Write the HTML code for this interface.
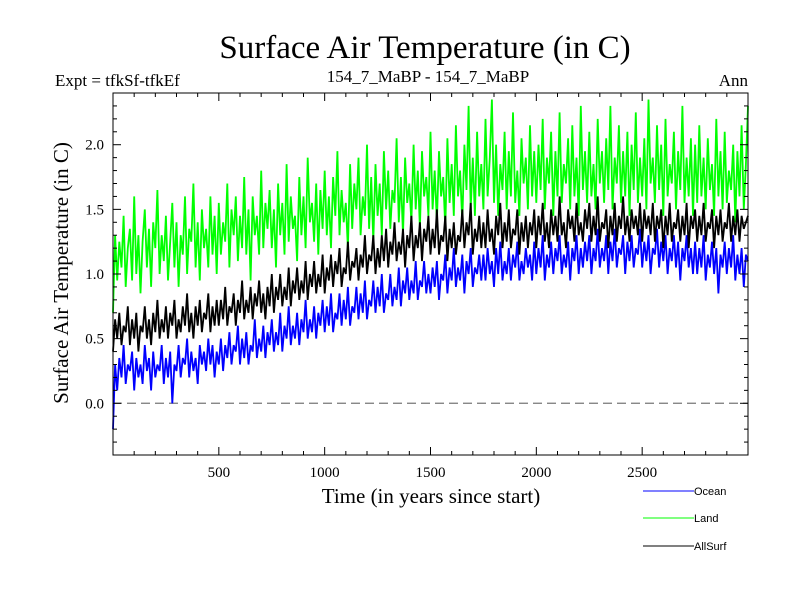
<!DOCTYPE html>
<html><head><meta charset="utf-8"><style>
body{margin:0;background:#fff}
svg{display:block}
.s{font-family:"Liberation Serif",serif}
.a{font-family:"Liberation Sans",sans-serif}
</style></head><body>
<svg id="chart" width="800" height="600">
<text class="s" x="425" y="58" font-size="33" text-anchor="middle">Surface Air Temperature (in C)</text>
<text class="s" x="55" y="86" font-size="17">Expt = tfkSf-tfkEf</text>
<text class="s" x="428" y="82" font-size="17" text-anchor="middle">154_7_MaBP - 154_7_MaBP</text>
<text class="s" x="748" y="86" font-size="17" text-anchor="end">Ann</text>
<text class="s" transform="translate(68,273) rotate(-90)" font-size="21" text-anchor="middle">Surface Air Temperature (in C)</text>
<text class="s" x="431" y="503" font-size="21" text-anchor="middle">Time (in years since start)</text>
<g id="series"></g>
<g id="axes"></g>
<g>
<line x1="643" y1="491" x2="694" y2="491" stroke="#0000ff"/>
<text class="a" x="694" y="495" font-size="11">Ocean</text>
<line x1="643" y1="518" x2="694" y2="518" stroke="#00ff00"/>
<text class="a" x="694" y="522" font-size="11">Land</text>
<line x1="643" y1="546" x2="694" y2="546" stroke="#000"/>
<text class="a" x="694" y="550" font-size="11">AllSurf</text>
</g>
</svg>
<script>
const xStart = 0, xEnd = 3000;
const yMin = -0.4, yMax = 2.4;
const xTickLabels = [500, 1000, 1500, 2000, 2500];
const yTickLabels = ["0.0", "0.5", "1.0", "1.5", "2.0"];
const landValues = [0.7,1.3,0.95,1.25,1.05,1.45,0.9,1.2,1.35,0.95,1.6,1.0,1.3,0.85,1.25,1.5,1.05,1.35,0.9,1.4,1.2,1.65,1.0,1.3,1.1,
1.45,0.95,1.25,1.55,1.05,1.4,0.9,1.3,1.15,1.6,1.0,1.35,1.25,1.7,1.05,1.4,0.95,1.5,1.2,1.35,1.05,1.6,1.15,1.45,1.0,
1.55,1.15,1.4,1.25,1.7,1.05,1.5,1.3,1.6,1.1,1.45,1.2,1.75,1.15,1.5,0.95,1.6,1.3,1.45,1.15,1.8,1.2,1.55,1.35,1.65,
1.2,1.5,1.05,1.7,1.3,1.55,1.15,1.85,1.25,1.6,1.35,1.45,1.1,1.75,1.3,1.6,1.2,1.9,1.4,1.55,1.25,1.7,1.15,1.65,1.35,
1.8,1.3,1.6,1.2,1.75,1.45,1.95,1.3,1.65,1.4,1.55,1.2,1.85,1.35,1.7,1.5,1.9,1.3,1.6,1.45,2.0,1.35,1.75,1.25,1.85,
1.45,1.7,1.3,1.95,1.5,1.8,1.35,1.65,1.55,2.05,1.4,1.75,1.3,1.9,1.55,1.7,1.4,2.0,1.5,1.8,1.35,1.95,1.6,1.75,1.45,
2.1,1.5,1.8,1.4,1.95,1.6,1.75,1.35,2.05,1.55,1.85,1.45,2.15,1.6,1.8,1.4,2.0,1.65,2.3,1.5,1.9,1.45,2.1,1.6,1.85,
1.5,2.2,1.6,1.9,2.35,1.55,2.0,1.45,1.85,1.65,2.1,1.5,1.95,1.6,2.25,1.55,1.8,1.45,2.05,1.7,1.9,1.5,2.15,1.6,1.95,
1.55,2.0,1.65,2.2,1.5,1.9,1.7,2.1,1.45,1.95,1.6,2.25,1.55,1.85,1.7,2.05,1.5,2.15,1.6,1.9,1.45,2.3,1.65,1.95,1.55,
2.1,1.6,1.85,1.5,2.2,1.7,1.95,1.55,2.05,1.65,2.3,1.5,1.9,1.7,2.15,1.55,1.95,1.6,2.1,1.45,2.0,1.65,2.25,1.55,1.9,
1.6,2.05,1.5,2.35,1.7,1.9,1.55,2.15,1.65,2.0,1.45,2.2,1.6,1.85,1.7,2.1,1.5,1.95,1.65,2.3,1.55,1.9,1.6,2.05,1.45,
2.0,1.55,2.15,1.6,1.9,1.5,2.05,1.65,1.85,1.45,2.2,1.6,1.95,1.5,2.1,1.55,1.8,1.65,2.0,1.4,1.95,1.6,2.15,1.5,1.85,
2.3];
const allSurfValues = [0.4,0.65,0.5,0.7,0.45,0.6,0.55,0.75,0.45,0.65,0.5,0.7,0.4,0.6,0.55,0.75,0.5,0.65,0.45,0.7,0.55,0.8,0.5,0.65,0.55,
0.75,0.5,0.7,0.6,0.8,0.5,0.65,0.55,0.75,0.6,0.85,0.55,0.7,0.5,0.75,0.6,0.8,0.55,0.7,0.65,0.85,0.55,0.75,0.6,0.8,
0.6,0.8,0.65,0.9,0.6,0.75,0.7,0.85,0.6,0.8,0.7,0.95,0.65,0.8,0.7,0.9,0.65,0.85,0.75,0.95,0.7,0.85,0.65,0.9,0.75,
1.0,0.7,0.9,0.8,1.0,0.75,0.9,0.8,1.05,0.75,0.95,0.85,1.05,0.8,0.95,0.85,1.1,0.8,1.0,0.9,1.1,0.85,1.0,0.9,1.15,
0.85,1.05,0.95,1.15,0.9,1.1,1.0,1.2,0.9,1.05,1.0,1.25,0.95,1.1,1.05,1.2,0.95,1.15,1.05,1.3,1.0,1.15,1.1,1.3,1.0,
1.2,1.05,1.3,1.1,1.35,1.05,1.25,1.15,1.4,1.1,1.25,1.15,1.35,1.05,1.3,1.2,1.45,1.1,1.3,1.2,1.4,1.1,1.35,1.25,1.45,
1.15,1.35,1.2,1.5,1.15,1.3,1.25,1.45,1.1,1.35,1.2,1.4,1.15,1.3,1.25,1.5,1.2,1.4,1.3,1.55,1.15,1.35,1.25,1.45,1.2,
1.4,1.2,1.5,1.25,1.35,1.15,1.45,1.3,1.55,1.2,1.4,1.25,1.5,1.2,1.35,1.3,1.5,1.15,1.4,1.25,1.45,1.2,1.4,1.3,1.5,
1.2,1.45,1.3,1.55,1.25,1.4,1.2,1.5,1.3,1.45,1.25,1.6,1.3,1.4,1.2,1.5,1.35,1.45,1.25,1.55,1.3,1.4,1.25,1.5,1.35,
1.55,1.25,1.45,1.3,1.6,1.25,1.4,1.35,1.5,1.2,1.45,1.3,1.55,1.25,1.45,1.35,1.6,1.3,1.45,1.25,1.5,1.35,1.45,1.3,1.55,
1.25,1.5,1.35,1.45,1.3,1.55,1.25,1.45,1.35,1.5,1.2,1.45,1.3,1.55,1.25,1.4,1.35,1.5,1.25,1.45,1.3,1.55,1.2,1.45,1.35,
1.5,1.25,1.45,1.3,1.55,1.25,1.4,1.35,1.5,1.2,1.45,1.3,1.5,1.25,1.4,1.35,1.55,1.25,1.45,1.3,1.5,1.25,1.45,1.35,1.4,
1.45];
const oceanValues = [-0.2,0.3,0.1,0.35,0.2,0.45,0.15,0.3,0.25,0.4,0.1,0.35,0.2,0.3,0.15,0.45,0.25,0.35,0.1,0.4,0.2,0.3,0.25,0.45,0.15,
0.35,0.2,0.4,0.0,0.3,0.25,0.45,0.2,0.35,0.3,0.5,0.2,0.4,0.25,0.35,0.15,0.45,0.3,0.4,0.25,0.5,0.3,0.45,0.2,0.4,
0.3,0.5,0.25,0.45,0.35,0.55,0.3,0.45,0.4,0.6,0.3,0.5,0.35,0.55,0.3,0.45,0.4,0.65,0.35,0.5,0.4,0.6,0.35,0.55,0.45,
0.65,0.4,0.55,0.45,0.7,0.4,0.6,0.5,0.75,0.45,0.6,0.5,0.7,0.45,0.65,0.55,0.8,0.5,0.65,0.55,0.75,0.5,0.7,0.6,0.8,
0.55,0.75,0.6,0.85,0.55,0.7,0.65,0.85,0.6,0.8,0.65,0.9,0.6,0.75,0.7,0.9,0.65,0.85,0.7,0.95,0.65,0.8,0.75,0.95,0.7,
0.9,0.75,1.0,0.7,0.85,0.8,1.0,0.75,0.9,0.8,1.05,0.75,0.95,0.85,1.05,0.8,0.95,0.85,1.1,0.8,0.95,0.9,1.1,0.85,1.0,
0.85,1.05,0.9,1.1,0.8,1.0,0.95,1.15,0.85,1.05,0.95,1.2,0.9,1.05,0.95,1.15,0.85,1.1,1.0,1.2,0.9,1.05,1.0,1.15,0.95,
1.15,0.95,1.2,1.0,1.1,0.9,1.2,1.0,1.25,0.95,1.1,1.0,1.2,0.95,1.15,1.05,1.25,0.95,1.1,1.0,1.2,1.05,1.15,0.95,1.25,
1.0,1.2,1.05,1.3,0.95,1.15,1.05,1.25,1.0,1.2,1.1,1.3,1.0,1.15,1.05,1.25,0.95,1.2,1.1,1.3,1.0,1.2,1.05,1.25,1.1,
1.3,1.0,1.2,1.1,1.35,1.05,1.2,1.1,1.3,1.0,1.25,1.1,1.35,1.05,1.2,1.15,1.3,1.0,1.25,1.1,1.3,1.05,1.2,1.15,1.35,
1.05,1.25,1.1,1.3,1.0,1.2,1.15,1.35,1.05,1.25,1.1,1.3,1.0,1.2,1.1,1.3,1.05,1.25,0.95,1.2,1.1,1.3,1.05,1.2,1.0,
1.25,1.0,1.2,1.05,1.3,0.95,1.15,1.05,1.25,1.0,1.2,0.85,1.15,1.05,1.25,1.0,1.2,1.05,1.3,0.95,1.15,1.0,1.2,0.9,1.15,
1.1];

const L = 113, R = 748, T = 93, B = 455;
const NS = 'http://www.w3.org/2000/svg';
function xs(v){ return L + (v - xStart) / (xEnd - xStart) * (R - L); }
function ys(v){ return B - (v - yMin) / (yMax - yMin) * (B - T); }
function mk(tag, attrs, parent){
  const e = document.createElementNS(NS, tag);
  for (const k in attrs) e.setAttribute(k, attrs[k]);
  parent.appendChild(e);
  return e;
}
const sg = document.getElementById('series');
const ag = document.getElementById('axes');

const zl = mk('line', {x1:L, x2:R, y1:ys(0), y2:ys(0), stroke:'#777', 'stroke-width':1.3, 'stroke-dasharray':'9,5'}, sg);



function drawSeries(vals, color, name){
  const step = (xEnd - xStart) / (vals.length - 1);
  const pts = vals.map((v, i) => xs(xStart + i * step).toFixed(1) + ',' + ys(v).toFixed(1)).join(' ');
  const p = mk('polyline', {points:pts, fill:'none', stroke:color, 'stroke-width':1.8}, sg);
  
  
}
drawSeries(oceanValues, '#0000ff', 'ocean-series');
drawSeries(landValues, '#00ff00', 'land-series');
drawSeries(allSurfValues, '#000000', 'allsurf-series');

const frame = mk('rect', {x:L, y:T, width:R-L, height:B-T, fill:'none', stroke:'#000', 'stroke-width':1}, ag);



for (let v = 100; v < xEnd; v += 100){
  const major = v % 500 === 0, len = major ? 8 : 4, x = xs(v);
  mk('line', {x1:x, x2:x, y1:B, y2:B-len, stroke:'#000'}, ag);
  mk('line', {x1:x, x2:x, y1:T, y2:T+len, stroke:'#000'}, ag);
}
xTickLabels.forEach(v => {
  const t = mk('text', {x:xs(v), y:B+22, 'font-size':15, 'text-anchor':'middle', class:'s'}, ag);
  t.textContent = v;
  
  
});
for (let k = -3; k <= 23; k++){
  const v = k / 10, y = ys(v), major = k % 5 === 0, len = major ? 8 : 4;
  mk('line', {x1:L, x2:L+len, y1:y, y2:y, stroke:'#000'}, ag);
  mk('line', {x1:R, x2:R-len, y1:y, y2:y, stroke:'#000'}, ag);
}
yTickLabels.forEach(s => {
  const t = mk('text', {x:L-9, y:ys(parseFloat(s))+5, 'font-size':15, 'text-anchor':'end', class:'s'}, ag);
  t.textContent = s;
  
  
});
</script>
</body></html>
